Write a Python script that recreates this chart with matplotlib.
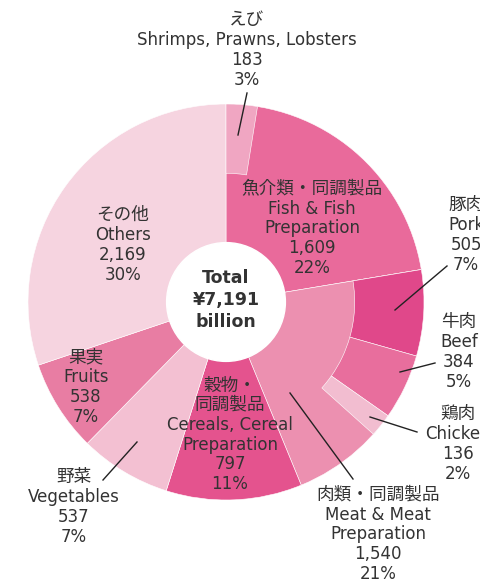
import matplotlib
matplotlib.use("Agg")
import matplotlib.pyplot as plt
from matplotlib.offsetbox import TextArea, VPacker, AnnotationBbox
import numpy as np

# wide latin face first, Japanese glyphs fall back to Noto CJK
plt.rcParams['font.family'] = ['DejaVu Sans', 'Noto Sans CJK JP']

# main categories, clockwise from 12 o'clock
main_jp = ["魚介類・同調製品", "肉類・同調製品", "穀物・\n同調製品", "野菜", "果実", "その他"]
main_en = ["Fish & Fish\nPreparation", "Meat & Meat\nPreparation", "Cereals, Cereal\nPreparation",
           "Vegetables", "Fruits", "Others"]
main_values = [1609, 1540, 797, 537, 538, 2169]
main_pcts = ["22%", "21%", "11%", "7%", "7%", "30%"]
main_colors = ["#E96A9B", "#EC90B0", "#E4538E", "#F3C0D2", "#E87DA3", "#F6D4E0"]

# sub items shown on the outer ring
sub_parent = [0, 1, 1, 1]
sub_jp = ["えび", "豚肉", "牛肉", "鶏肉"]
sub_en = ["Shrimps, Prawns, Lobsters", "Pork", "Beef", "Chicken"]
sub_values = [183, 505, 384, 136]
sub_pcts = ["3%", "7%", "5%", "2%"]
sub_colors = ["#F0A6C2", "#E0488A", "#E86E9D", "#F2BDD0"]

total_text = "Total\n¥7,191\nbillion"

W, H = 480, 585
cx, cy, R = 226, 302, 198
hole = 0.30
inner = 0.65
text_color = "#333333"


def px(x, y):
    # pixel position in the picture -> data coords (pie radius = 1)
    return (x - cx) / R, (cy - y) / R


def label(ax, pos, jp, en, value, pct):
    jp_box = TextArea(jp, textprops=dict(fontsize=12.7, color=text_color, linespacing=1.05,
                                         ha="center", multialignment="center"))
    en_box = TextArea(f"{en}\n{value:,}\n{pct}",
                      textprops=dict(fontsize=12, color=text_color, linespacing=1.12,
                                     ha="center", multialignment="center"))
    pack = VPacker(children=[jp_box, en_box], align="center", pad=0, sep=1.5)
    ab = AnnotationBbox(pack, px(*pos), xycoords="data", frameon=False,
                        box_alignment=(0.5, 0.5), pad=0, annotation_clip=False, zorder=5)
    ax.add_artist(ab)


fig = plt.figure(figsize=(W / 100, H / 100), dpi=100)
ax = fig.add_axes([0, 0, 1, 1])

# full pie for the main categories
ax.pie(main_values, colors=main_colors, startangle=90, counterclock=False,
       radius=1, wedgeprops=dict(edgecolor="white", linewidth=0.4))

# outer ring: sub items placed at the start of their parent, rest left out
ring_values = []
ring_colors = []
ring_show = []
for i, v in enumerate(main_values):
    subs = [j for j in range(len(sub_values)) if sub_parent[j] == i]
    for j in subs:
        ring_values.append(sub_values[j])
        ring_colors.append(sub_colors[j])
        ring_show.append(True)
    rest = v - sum(sub_values[j] for j in subs)
    ring_values.append(rest)
    ring_colors.append(main_colors[i])
    ring_show.append(False)

ring, _ = ax.pie(ring_values, colors=ring_colors, startangle=90, counterclock=False,
                 radius=1, wedgeprops=dict(width=1 - inner, edgecolor="white", linewidth=0.4))
for w, show in zip(ring, ring_show):
    w.set_visible(show)

ax.set_xlim(-cx / R, (W - cx) / R)
ax.set_ylim(-(H - cy) / R, cy / R)
ax.set_aspect("equal")
ax.axis("off")

ax.add_patch(plt.Circle((0, 0), hole, color="white", zorder=3))
ax.text(0, px(0, 300)[1], total_text, ha="center", va="center", fontsize=12.5,
        fontweight="bold", color=text_color, linespacing=1.3, zorder=4)

# label positions (pixels) for main and sub items
main_pos = [(312, 228), (378, 534), (230, 435), (74, 507), (86, 387), (123, 245)]
main_leader = [None, ((290, 393), (353, 479)), None, ((137, 442), (103, 480)), None, None]
sub_pos = [(247, 50), (466, 235), (459, 352), (458, 444)]
sub_leader = [((238, 135), (247, 93)), ((395, 310), (447, 266)),
              ((400, 372), (435, 363)), ((370, 417), (417, 432))]

for jp, en, v, p, pos in zip(main_jp, main_en, main_values, main_pcts, main_pos):
    label(ax, pos, jp, en, v, p)
for jp, en, v, p, pos in zip(sub_jp, sub_en, sub_values, sub_pcts, sub_pos):
    label(ax, pos, jp, en, v, p)

for ld in main_leader + sub_leader:
    if ld is None:
        continue
    (x0, y0), (x1, y1) = px(*ld[0]), px(*ld[1])
    ax.plot([x0, x1], [y0, y1], color="#222222", linewidth=1, zorder=5)

fig.savefig("out.png", dpi=100)
